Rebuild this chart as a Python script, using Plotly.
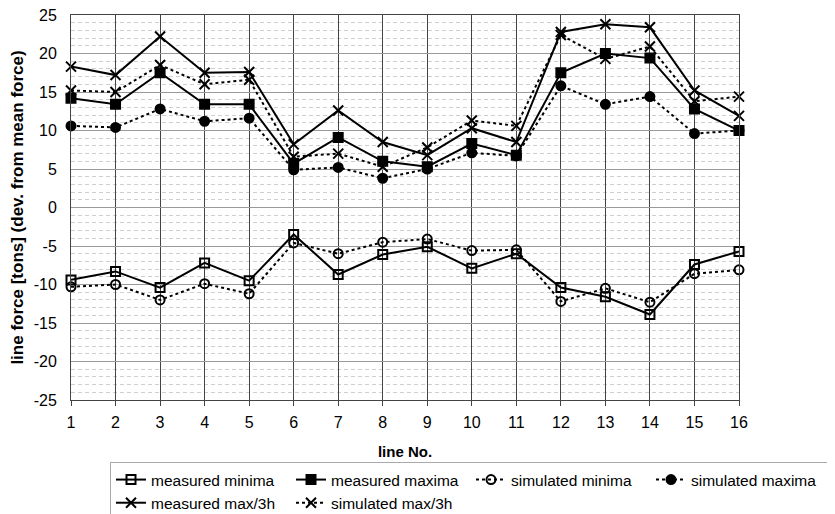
import plotly.graph_objects as go

line_no = list(range(1, 17))
y_tick_vals = [-25, -20, -15, -10, -5, 0, 5, 10, 15, 20, 25]
y_tick_text = ["-25", "-20", "-15", "-10", "-5", "0", "5", "10", "15", "20", "25"]

measured_minima = [-9.4, -8.3, -10.4, -7.2, -9.5, -3.5, -8.7, -6.1, -5.1, -7.9, -6.0, -10.4, -11.6, -13.9, -7.4, -5.7]
measured_maxima = [14.2, 13.4, 17.5, 13.4, 13.4, 5.7, 9.1, 6.0, 5.3, 8.3, 6.8, 17.5, 20.0, 19.4, 12.8, 10.0]
simulated_minima = [-10.3, -10.0, -12.0, -9.9, -11.2, -4.6, -6.0, -4.5, -4.1, -5.6, -5.5, -12.2, -10.5, -12.3, -8.6, -8.1]
simulated_maxima = [10.6, 10.4, 12.8, 11.2, 11.6, 4.9, 5.2, 3.8, 5.0, 7.1, 6.7, 15.8, 13.4, 14.4, 9.6, 10.0]
measured_max3h = [18.3, 17.2, 22.2, 17.5, 17.6, 8.2, 12.6, 8.5, 6.8, 10.3, 8.5, 22.8, 23.8, 23.4, 15.2, 11.9]
simulated_max3h = [15.2, 15.0, 18.5, 16.0, 16.6, 6.6, 7.0, 5.3, 7.8, 11.3, 10.6, 22.4, 19.3, 20.9, 13.8, 14.4]

series = [
    ("measured minima", measured_minima, "solid", "square-open", 9),
    ("measured maxima", measured_maxima, "solid", "square", 9),
    ("simulated minima", simulated_minima, "dot", "circle-open", 9),
    ("simulated maxima", simulated_maxima, "dot", "circle", 9),
    ("measured max/3h", measured_max3h, "solid", "x-thin-open", 10),
    ("simulated max/3h", simulated_max3h, "dot", "x-thin-open", 10),
]

fig = go.Figure()
for name, vals, dash, sym, size in series:
    fig.add_trace(go.Scatter(
        x=line_no, y=vals, name=name, mode="lines+markers",
        line=dict(color="black", width=2, dash=dash),
        marker=dict(symbol=sym, size=size, color="black",
                    line=dict(color="black", width=2)),
        cliponaxis=False,
    ))

# page body has an 8px margin; figure coordinates are offset accordingly
W, H = 850, 514
L, R, T, B = 63, 731, 7, 392
PW, PH = R - L, B - T
font = "Liberation Sans, Arial, sans-serif"
fig.update_layout(
    width=W, height=H,
    margin=dict(l=L, r=W - R, t=T, b=H - B, autoexpand=False),
    paper_bgcolor="white", plot_bgcolor="white",
    font=dict(family=font, size=16, color="black"),
    showlegend=True,
    legend=dict(
        orientation="h", x=(824 - L) / PW, xref="paper", y=(B - 454) / PH, yref="paper",
        xanchor="right", yanchor="top",
        bordercolor="#aaa", borderwidth=1,
        font=dict(size=15.5, family=font),
        entrywidth=135, entrywidthmode="pixels",
        tracegroupgap=0,
    ),
    xaxis=dict(
        range=[1, 16], tickmode="array", tickvals=line_no,
        showgrid=True, gridcolor="#444", gridwidth=1,
        showline=True, linecolor="#444", mirror=True,
        ticks="outside", ticklen=5, tickcolor="#444", ticklabelstandoff=3,
        zeroline=False, ticklabeloverflow="allow",
        title=dict(text="<b>line No.</b>", font=dict(size=15), standoff=16),
    ),
    yaxis=dict(
        range=[-25, 25], tickmode="array", tickvals=y_tick_vals, ticktext=y_tick_text,
        showgrid=True, gridcolor="#9a9a9a", gridwidth=1,
        showline=True, linecolor="#444", mirror=True,
        zeroline=False, ticks="", ticklabelstandoff=10, ticklabeloverflow="allow",
        minor=dict(dtick=1, showgrid=True, gridcolor="#cfcfcf", griddash="4px,3px", gridwidth=1),
        title=dict(text="<b>line force [tons] (dev. from mean force)</b>", font=dict(size=17), standoff=8),
    ),
)

fig.write_html("out.html")
